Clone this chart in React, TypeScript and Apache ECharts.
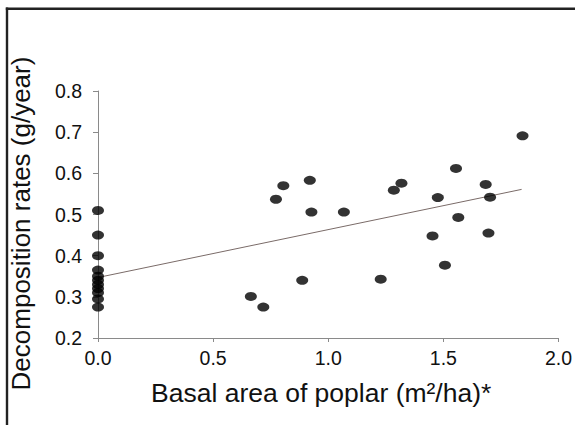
import React, { useEffect, useRef } from "react";
import * as echarts from "echarts";

const poplarBasalArea = [
  0, 0, 0, 0, 0, 0, 0, 0, 0, 0, 0,
  0.664, 0.718, 0.773, 0.805, 0.887, 0.92, 0.927, 1.068, 1.228, 1.285, 1.318,
  1.453, 1.476, 1.507, 1.555, 1.565, 1.684, 1.696, 1.703, 1.844,
];
const decompositionRate = [
  0.51, 0.45, 0.4, 0.365, 0.35, 0.34, 0.33, 0.32, 0.31, 0.295, 0.275,
  0.301, 0.275, 0.537, 0.57, 0.34, 0.583, 0.506, 0.506, 0.343, 0.559, 0.576,
  0.448, 0.541, 0.377, 0.612, 0.493, 0.573, 0.455, 0.542, 0.691,
];
const trendX = [0, 1.84];
const trendY = [0.347, 0.561];

const xTicks = [0, 0.5, 1.0, 1.5, 2.0];
const yTicks = [0.2, 0.3, 0.4, 0.5, 0.6, 0.7, 0.8];

const xName = "Basal area of poplar (m\u00B2/ha)*";
const yName = "Decomposition rates (g/year)";

export default function App() {
  const ref = useRef<HTMLDivElement>(null);
  useEffect(() => {
    document.body.style.margin = "0";
    const chart = echarts.init(ref.current!, null, { renderer: "svg" });
    const font = "Liberation Sans, Arial, sans-serif";
    chart.setOption({
      animation: false,
      backgroundColor: "#ffffff",
      grid: { left: 98, right: 13, top: 91, bottom: 87, containLabel: false },
      xAxis: {
        type: "value",
        min: xTicks[0],
        max: xTicks[xTicks.length - 1],
        interval: 0.5,
        name: xName,
        nameLocation: "middle",
        nameGap: 41,
        nameTextStyle: {
          fontFamily: font,
          fontSize: 26.5,
          color: "#111",
          padding: [0, 14, 0, 0],
        },
        axisLine: { show: true, lineStyle: { color: "#8a8a8a", width: 1 } },
        axisTick: { show: true, length: 4, lineStyle: { color: "#8a8a8a" } },
        axisLabel: {
          fontFamily: font,
          fontSize: 19.5,
          color: "#111",
          margin: 10,
          formatter: (v: number) => v.toFixed(1),
        },
        splitLine: { show: false },
      },
      yAxis: {
        type: "value",
        min: yTicks[0],
        max: yTicks[yTicks.length - 1],
        interval: 0.1,
        name: yName,
        nameLocation: "middle",
        nameGap: 64,
        nameTextStyle: {
          fontFamily: font,
          fontSize: 26,
          color: "#111",
          padding: [0, 18, 0, 0],
        },
        axisLine: { show: true, lineStyle: { color: "#8a8a8a", width: 1 } },
        axisTick: { show: true, length: 5, lineStyle: { color: "#8a8a8a" } },
        axisLabel: {
          fontFamily: font,
          fontSize: 19.5,
          color: "#111",
          margin: 16,
          formatter: (v: number) => v.toFixed(1),
        },
        splitLine: { show: false },
      },
      series: [
        {
          type: "line",
          data: trendX.map((x, i) => [x, trendY[i]]),
          symbol: "none",
          lineStyle: { color: "#7a6b68", width: 1 },
          z: 1,
        },
        {
          type: "scatter",
          data: poplarBasalArea.map((x, i) => [x, decompositionRate[i]]),
          symbol: "circle",
          symbolSize: [12, 9],
          itemStyle: { color: "#000000" },
          z: 2,
        },
      ],
      graphic: [
        {
          type: "line",
          shape: { x1: 5.8, y1: 8.7, x2: 575, y2: 8.7 },
          style: { stroke: "#222", lineWidth: 2.6 },
        },
        {
          type: "line",
          shape: { x1: 7, y1: 7.4, x2: 7, y2: 425 },
          style: { stroke: "#222", lineWidth: 2.4 },
        },
      ],
    });
    return () => chart.dispose();
  }, []);
  return (
    <div
      ref={ref}
      style={{ position: "fixed", left: 0, top: 0, width: 575, height: 425 }}
    />
  );
}
